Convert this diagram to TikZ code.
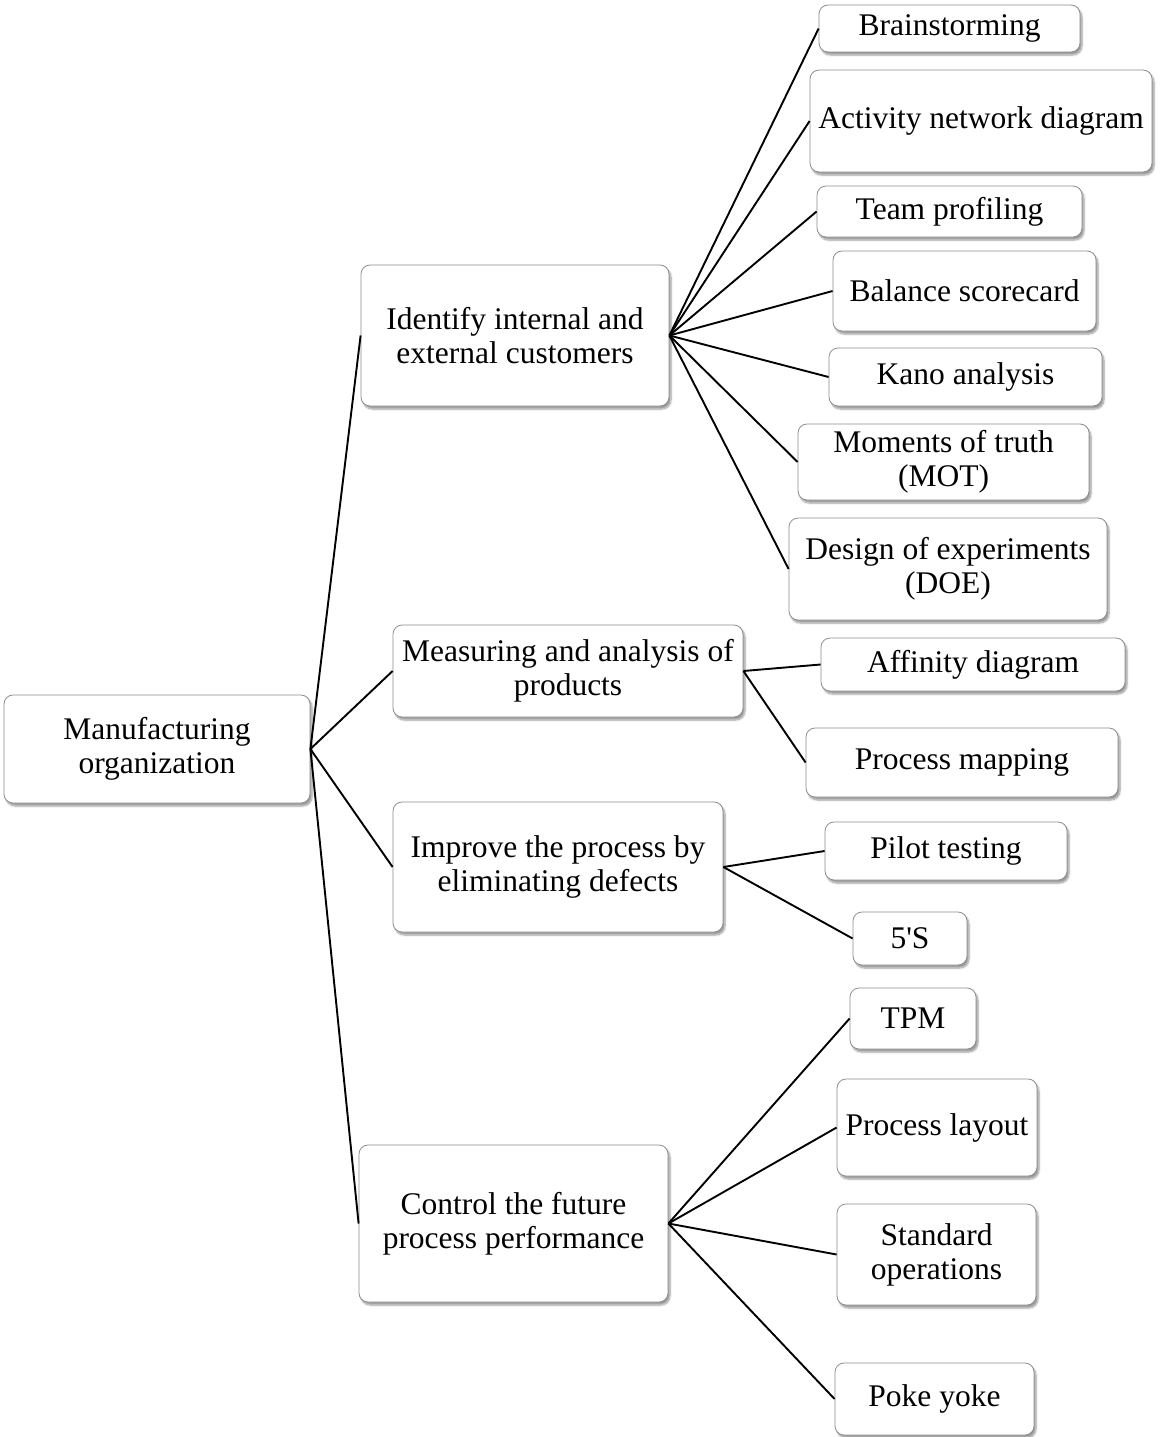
\documentclass[tikz,border=0pt]{standalone}
\usepackage{fontspec}
\setmainfont{Liberation Serif}
% same face without TeX quote mapping, for a straight apostrophe
\newfontfamily\rawserif{Liberation Serif}
\usetikzlibrary{shadows.blur}
\begin{document}
\begin{tikzpicture}[x=1pt,y=-1pt,
  box/.style={draw=black!45, line width=0.8pt, fill=white, rounded corners=9pt,
    align=center, inner sep=0pt, font=\fontsize{31.5}{34}\selectfont,
    blur shadow={shadow xshift=2pt, shadow yshift=-3pt, shadow blur steps=6, shadow opacity=40}},
  link/.style={line width=1.9pt, black}]
\useasboundingbox (0,0) rectangle (1159,1437);
% root and branches
\node[box, minimum width=306pt, minimum height=108pt] (root) at (157,749) {Manufacturing\\organization};
\node[box, minimum width=308pt, minimum height=141pt] (id) at (515,335.5) {Identify internal and\\external customers};
\node[box, minimum width=350pt, minimum height=92pt] (meas) at (568,671) {Measuring and analysis of\\products};
\node[box, minimum width=330pt, minimum height=130pt] (imp) at (558,867) {Improve the process by\\eliminating defects};
\node[box, minimum width=309pt, minimum height=157pt] (ctl) at (513.5,1223.5) {Control the future\\process performance};
% leaves
\node[box, minimum width=261pt, minimum height=47pt] (brain) at (949.5,28.5) {Brainstorming};
\node[box, minimum width=342pt, minimum height=102pt] (act) at (981,121) {Activity network diagram};
\node[box, minimum width=265pt, minimum height=51pt] (team) at (949.5,211.5) {Team profiling};
\node[box, minimum width=263pt, minimum height=80pt] (bal) at (964.5,291) {Balance scorecard};
\node[box, minimum width=273pt, minimum height=58pt] (kano) at (965.5,377) {Kano analysis};
\node[box, minimum width=291pt, minimum height=76pt] (mot) at (943.5,462) {Moments of truth\\(MOT)};
\node[box, minimum width=318pt, minimum height=102pt] (doe) at (948,569) {Design of experiments\\(DOE)};
\node[box, minimum width=304pt, minimum height=53pt] (aff) at (973,664.5) {Affinity diagram};
\node[box, minimum width=312pt, minimum height=69pt] (pmap) at (962,762.5) {Process mapping};
\node[box, minimum width=242pt, minimum height=58pt] (pilot) at (946,851) {Pilot testing};
\node[box, minimum width=114pt, minimum height=53pt] (fives) at (910,938.5) {\rawserif 5'S};
\node[box, minimum width=126pt, minimum height=61pt] (tpm) at (913,1018.5) {TPM};
\node[box, minimum width=200pt, minimum height=97pt] (play) at (937,1127.5) {Process layout};
\node[box, minimum width=199pt, minimum height=101pt] (std) at (936.5,1254.5) {Standard\\operations};
\node[box, minimum width=199pt, minimum height=72pt] (poke) at (934.5,1399) {Poke yoke};
% connectors
\foreach \c in {id,meas,imp,ctl} \draw[link] (root.east) -- (\c.west);
\foreach \c in {brain,act,team,bal,kano,mot,doe} \draw[link] (id.east) -- (\c.west);
\foreach \c in {aff,pmap} \draw[link] (meas.east) -- (\c.west);
\foreach \c in {pilot,fives} \draw[link] (imp.east) -- (\c.west);
\foreach \c in {tpm,play,std,poke} \draw[link] (ctl.east) -- (\c.west);
\end{tikzpicture}
\end{document}
